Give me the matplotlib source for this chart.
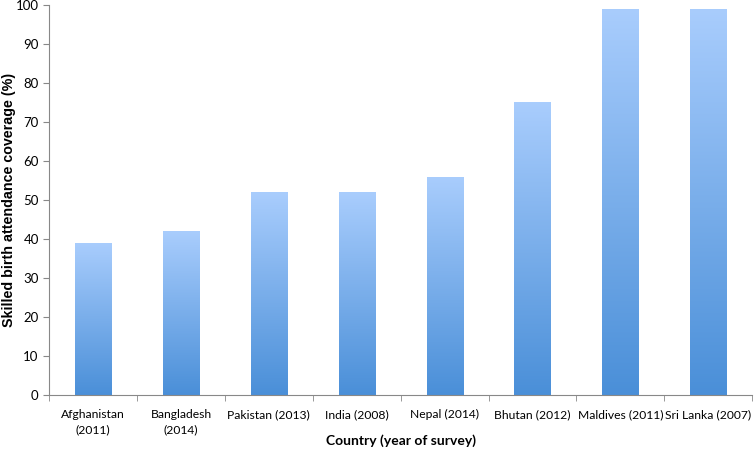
import numpy as np
import matplotlib
matplotlib.use("Agg")
import matplotlib.pyplot as plt
from matplotlib.colors import LinearSegmentedColormap

countries = ["Afghanistan\n(2011)", "Bangladesh\n(2014)", "Pakistan (2013)", "India (2008)",
             "Nepal (2014)", "Bhutan (2012)", "Maldives (2011)", "Sri Lanka (2007)"]
coverage = [39, 42, 52, 52, 56, 75, 99, 99]
y_ticks = [0, 10, 20, 30, 40, 50, 60, 70, 80, 90, 100]

fig = plt.figure(figsize=(7.56, 4.55), dpi=100)
ax = fig.add_axes([0.065, 0.132, 0.93, 0.857])

# gradient fill: light top, darker bottom
cmap = LinearSegmentedColormap.from_list("bar", ["#4a8fd8", "#a9cdfd"])
grad = np.linspace(0, 1, 256).reshape(-1, 1)
x = np.arange(len(coverage))
bars = ax.bar(x, coverage, width=0.41, color="none", edgecolor="none")
for b in bars:
    x0, w, h = b.get_x(), b.get_width(), b.get_height()
    im = ax.imshow(grad, cmap=cmap, origin="lower", aspect="auto",
                   extent=[x0, x0 + w, 0, h], zorder=2)
    im.set_clip_path(b)

ax.set_xlim(-0.5, len(coverage) - 0.5)
ax.set_ylim(0, 100)
ax.set_yticks(y_ticks)

ax.set_xticks(x)
ax.set_xticklabels(countries, fontsize=8.7, family="Lato", linespacing=1.5)
ax.set_xticks(np.arange(len(coverage) + 1) - 0.5, minor=True)
ax.tick_params(axis="x", which="major", length=0, pad=10)
ax.tick_params(axis="x", which="minor", length=4, color="#888888")
ax.tick_params(axis="y", length=4, color="#888888", labelsize=9.5)
for lbl in ax.get_yticklabels():
    lbl.set_family("Lato")

for s in ["top", "right"]:
    ax.spines[s].set_visible(False)
for s in ["left", "bottom"]:
    ax.spines[s].set_color("#888888")

ax.set_ylabel("Skilled birth attendance coverage (%)", fontsize=10.3,
              fontweight="bold", family="Liberation Sans")
ax.yaxis.set_label_coords(-0.047, 0.5)
ax.set_xlabel("Country (year of survey)", fontsize=10, fontweight="bold",
              family="Lato")
ax.xaxis.set_label_coords(0.5, -0.102)

fig.savefig("out.png", dpi=100)
